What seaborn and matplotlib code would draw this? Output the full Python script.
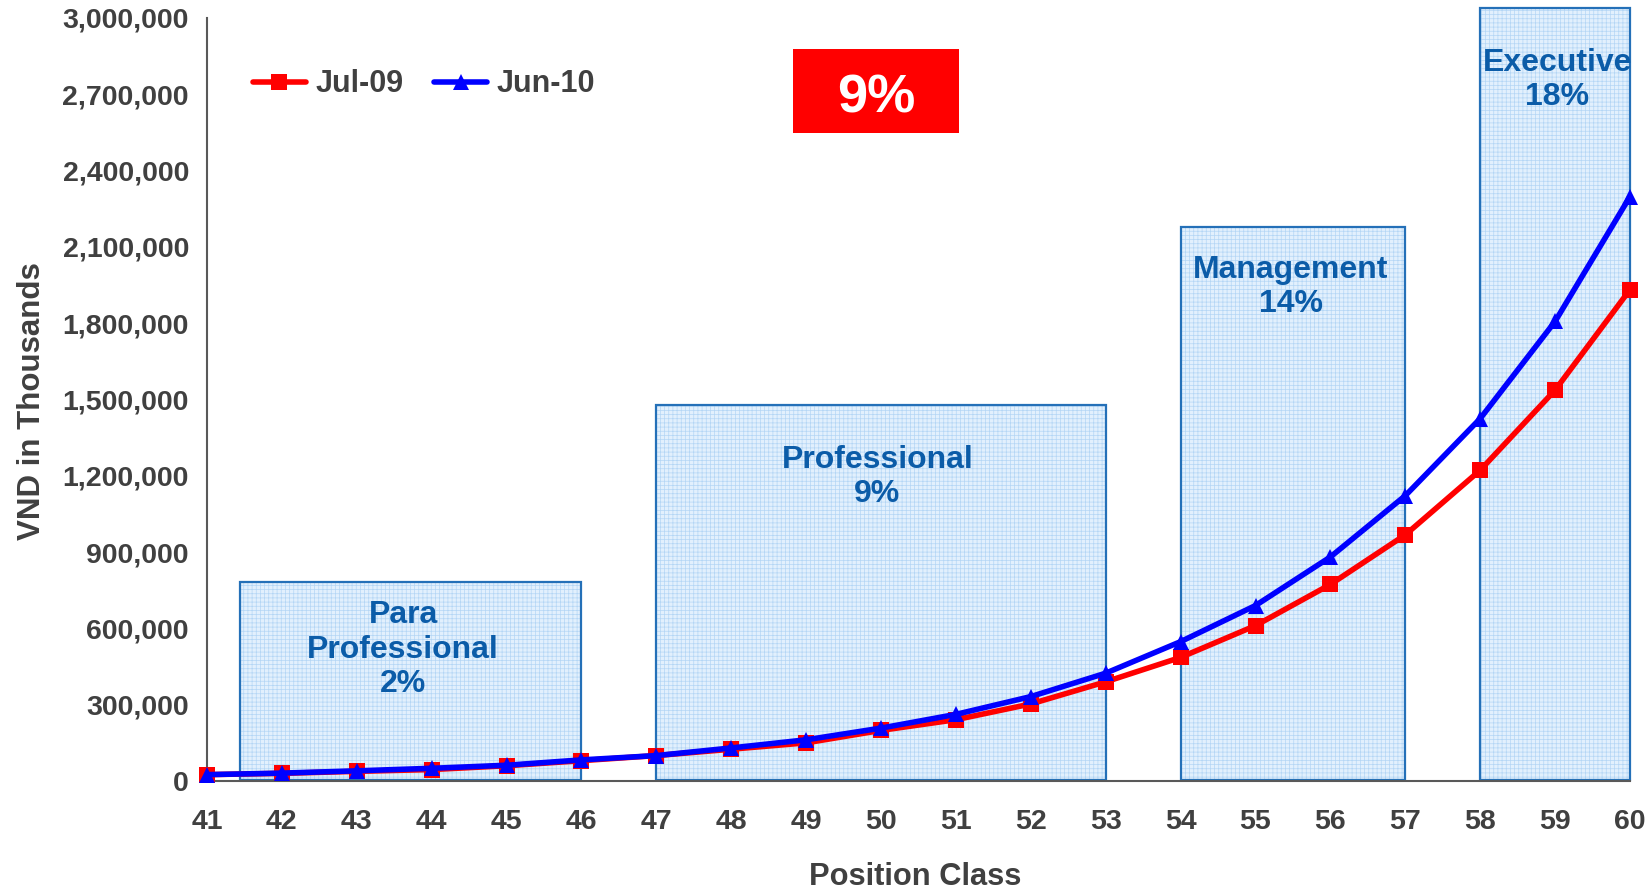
import numpy as np
import pandas as pd
import matplotlib
matplotlib.use("Agg")
import matplotlib.pyplot as plt
import seaborn as sns
from matplotlib.patches import Rectangle

# position classes and salaries (VND thousands)
position_class = list(range(41, 61))
jul_09 = [25000, 30000, 38000, 45000, 60000, 80000, 100000, 125000, 150000, 199000,
          241000, 303000, 390000, 486000, 611000, 773000, 968000, 1222000, 1537000, 1932000]
jun_10 = [25000, 31000, 40000, 50000, 62000, 83000, 100000, 130000, 162000, 208000,
          262000, 332000, 424000, 548000, 690000, 881000, 1122000, 1425000, 1807000, 2298000]

# job bands: (label, first class, last class, band top)
band_labels = ["Para\nProfessional\n2%", "Professional\n9%", "Management\n14%", "Executive\n18%"]
band_start = [41.44, 47, 54, 58]
band_end = [46, 53, 57, 60]
band_top = [781000, 1478000, 2177000, 3040000]
band_text_y = [517000, 1196000, 1942000, 2757000]
band_text_x = [43.62, 49.95, 55.47, 59.03]

df = pd.DataFrame({
    "Position Class": position_class * 2,
    "VND": jul_09 + jun_10,
    "series": ["Jul-09"] * len(jul_09) + ["Jun-10"] * len(jun_10),
})

sns.set_style("white")
plt.rcParams["font.family"] = ["Liberation Sans", "DejaVu Sans"]
plt.rcParams["font.weight"] = "bold"
plt.rcParams["hatch.linewidth"] = 0.5

txt = "#404040"
band_blue = "#0B5CA8"

fig = plt.figure(figsize=(16.52, 8.94), dpi=100)
ax = fig.add_axes([207 / 1652, 113 / 894, 1423 / 1652, 763 / 894])

# shaded band boxes
for lab, x0, x1, top, tx, ty in zip(band_labels, band_start, band_end, band_top, band_text_x, band_text_y):
    ax.add_patch(Rectangle((x0, 4000), x1 - x0, top - 4000, facecolor="#E2F0FD",
                           edgecolor="#B4D6F5", hatch="++++", lw=0, zorder=1, clip_on=False))
    ax.add_patch(Rectangle((x0, 4000), x1 - x0, top - 4000, fill=False,
                           edgecolor="#2470B8", lw=1.6, zorder=1.5, clip_on=False))
    ax.text(tx, ty, lab, ha="center", va="center", color=band_blue, fontsize=23,
            fontweight="bold", linespacing=1.18, zorder=5)

sns.lineplot(data=df, x="Position Class", y="VND", hue="series", style="series",
             palette={"Jul-09": "#FF0000", "Jun-10": "#0000FF"},
             markers={"Jul-09": "s", "Jun-10": "^"}, dashes=False,
             lw=4, markersize=12, markeredgewidth=0, ax=ax, zorder=3, clip_on=False)

# red callout
ax.add_patch(Rectangle((48.82, 2546000), 2.22, 333000, facecolor="#FF0000", lw=0, zorder=4))
ax.text(49.93, 2683000, "9%", ha="center", va="center", color="white", fontsize=39,
        fontweight="bold", zorder=5)

ax.set_xlim(41, 60)
ax.set_ylim(0, 3000000)
ax.set_xticks(position_class)
ax.set_yticks(np.arange(0, 3000001, 300000))
ax.yaxis.set_major_formatter(matplotlib.ticker.FuncFormatter(lambda v, p: f"{int(v):,}"))
ax.tick_params(axis="both", direction="out", length=7, width=1.3, color="#595959",
               labelsize=20.5, labelcolor=txt)
ax.tick_params(axis="y", pad=6)
ax.tick_params(axis="x", pad=13)
for t in ax.get_xticklabels() + ax.get_yticklabels():
    t.set_fontweight("bold")
for s in ["top", "right"]:
    ax.spines[s].set_visible(False)
for s in ["left", "bottom"]:
    ax.spines[s].set_color("#595959")
    ax.spines[s].set_linewidth(1.5)
ax.set_xlabel("")
ax.set_ylabel("")

fig.text(31.6 / 1652, 0.5515, "VND in Thousands", rotation=90, ha="center", va="center",
         fontsize=22.5, fontweight="bold", color=txt)
fig.text(915 / 1652, 0.0185, "Position Class", ha="center", va="center",
         fontsize=22.2, fontweight="bold", color=txt)

handles, labels = ax.get_legend_handles_labels()
leg = ax.legend(handles, labels, loc="center left", bbox_to_anchor=(0.032, 0.913), ncol=2,
                frameon=False, fontsize=22, handlelength=1.75, handletextpad=0.3,
                columnspacing=1.0, borderpad=0, borderaxespad=0)
for t in leg.get_texts():
    t.set_color(txt)
    t.set_fontweight("bold")

fig.savefig("out.png", dpi=100)
